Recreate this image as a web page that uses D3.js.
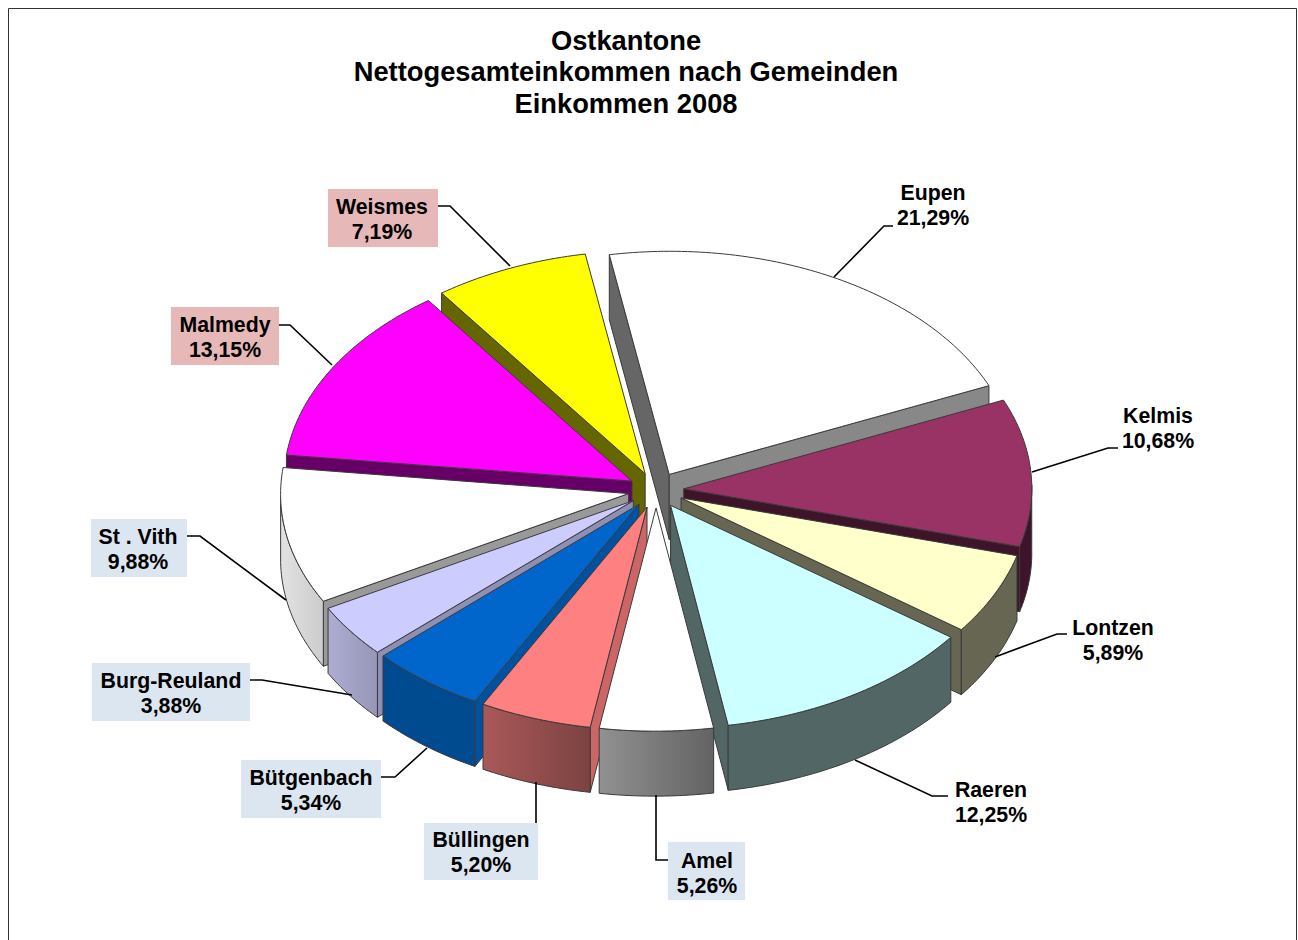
<!DOCTYPE html>
<html><head><meta charset="utf-8">
<script src="https://cdn.jsdelivr.net/npm/d3@7/dist/d3.min.js"></script>
<style>html,body{margin:0;padding:0;background:#fff;overflow:hidden}svg{display:block}text{font-family:"Liberation Sans",Arial,sans-serif;font-weight:bold;fill:#000}</style>
</head><body><svg id="c" width="1298" height="940"></svg>
<script>
const titleLines = ["Ostkantone","Nettogesamteinkommen nach Gemeinden","Einkommen 2008"];
const categories = ["Eupen","Kelmis","Lontzen","Raeren","Amel","Büllingen","Bütgenbach","Burg-Reuland","St . Vith","Malmedy","Weismes"];
const shares = [21.29,10.68,5.89,12.25,5.26,5.20,5.34,3.88,9.88,13.15,7.19];

const topColors  = ["#ffffff","#993366","#ffffcc","#ccffff","#ffffff","#ff8080","#0066cc","#ccccff","#ffffff","#ff00ff","#ffff00"];
const startWalls = ["#666666","#3d1429","#666652","#526666","#666666","#cc6666","#00529f","#8f8fb3","#999999","#660066","#666600"];
const endWalls   = ["#888888","#3d1429","#666652","#526666","#666666","#cc6666","#00529f","#8f8fb3","#999999","#660066","#666600"];
const wallFrom   = ["#999999","#3d1429","#666652","#526666","#919191","#aa5858","#004a90","#adadd2","#e2e2e2","#660066","#666600"];
const wallTo     = ["#666666","#3d1429","#666652","#526666","#636363","#7c4242","#004a90","#9696b8","#cccccc","#660066","#666600"];
const drawOrder  = ["Weismes","Eupen","Malmedy","Kelmis","St . Vith","Lontzen","Burg-Reuland","Raeren","Bütgenbach","Büllingen","Amel"];

// Label layout: text centre, first baseline, optional box, leader path
const labelLayout = {
  "Eupen":        {cx:933, y:200, leader:[[834,277],[884,226],[893,226]]},
  "Kelmis":       {cx:1158,y:423, leader:[[1032,472],[1108,448],[1118,448]]},
  "Lontzen":      {cx:1113,y:635, leader:[[995,657],[1057,634],[1067,634]]},
  "Raeren":       {cx:991, y:797, leader:[[855,760],[932,796],[948,796]]},
  "Amel":         {cx:707, y:868, box:[668,842,77,58],  leader:[[656,795],[656,860],[668,860]]},
  "Büllingen":    {cx:481, y:847, box:[424,823,114,57], leader:[[536,782],[536,823]]},
  "Bütgenbach":   {cx:311, y:785, box:[241,760,140,58], leader:[[427,748],[395,777],[381,777]]},
  "Burg-Reuland": {cx:171, y:688, box:[92,663,158,58],  leader:[[352,695],[262,680],[250,680]]},
  "St . Vith":    {cx:138, y:544, box:[91,519,96,58],   leader:[[286,600],[200,536],[187,536]]},
  "Malmedy":      {cx:225, y:332, box:[171,307,108,58], leader:[[332,365],[290,325],[279,325]], fill:"#e6b8b7"},
  "Weismes":      {cx:382, y:214, box:[328,189,110,58], leader:[[510,266],[450,206],[438,206]], fill:"#e6b8b7"}
};

const svg = d3.select("#c");
const defs = svg.append("defs");
const CX=653, CY=492, RX=348, RY=222, DEPTH=65, EXPLODE=0.08;
const rad = d=>d*Math.PI/180;
const fmt = d3.formatLocale({decimal:",",thousands:".",grouping:[3],currency:["","€"]}).format(".2f");
// slight skew and foreshortening of the viewing plane
const skew = ([x,y])=>[x+0.025*(y-373), y-0.012*(x-400)+0.005*(y-253)];

// frame
svg.append("path").attr("d","M8.5 940V8.5H1296.5V940").attr("fill","none").attr("stroke","#333").attr("stroke-width",1);

// title
svg.append("g").selectAll("text").data(titleLines).join("text")
  .attr("x",626).attr("y",(d,i)=>50+i*31.4).attr("text-anchor","middle").attr("font-size",27.3).text(d=>d);

const arcs = d3.pie().sort(null).value(d=>d.v).startAngle(rad(-9)).endAngle(rad(351))(
  categories.map((n,i)=>({n,v:shares[i],i})));

const line = d3.line();
const down = (p,dz)=>[p[0],p[1]+dz];
const pt = (a,o,dz=0)=>down(skew([o[0]+RX*Math.sin(a), o[1]-RY*Math.cos(a)]),dz);
const sample = (a0,a1,o,dz=0)=>{const n=Math.max(2,Math.ceil(Math.abs(a1-a0)/rad(1)));return d3.range(n+1).map(k=>pt(a0+(a1-a0)*k/n,o,dz));};

const ordered = drawOrder.map(n=>arcs.find(s=>s.data.n===n));
const pieG = svg.append("g").attr("stroke","#3a3a3a").attr("stroke-width",1).attr("stroke-linejoin","round");

ordered.forEach(s=>{
  const i=s.data.i, mid=(s.startAngle+s.endAngle)/2;
  const o=[CX+EXPLODE*RX*Math.sin(mid), CY-EXPLODE*RY*Math.cos(mid)];
  const apex=skew(o);
  const a0=s.startAngle, a1=s.endAngle;
  const g=pieG.append("g").attr("class","slice");
  const wall=(a,col)=>{const p=pt(a,o);
    g.append("path").attr("fill",col).attr("d",line([apex,p,down(p,DEPTH),down(apex,DEPTH)])+"Z");};
  // a cut face is only drawn when it turns towards the viewer
  if(Math.sin(a0)<0) wall(a0,startWalls[i]);
  if(Math.sin(a1)>0) wall(a1,endWalls[i]);
  // outer wall: only the front half of the rim faces the viewer
  const spans=[[Math.max(a0,rad(90)),Math.min(a1,rad(270))],[Math.max(a0+2*Math.PI,rad(90)),Math.min(a1+2*Math.PI,rad(270))]];
  spans.forEach(([l,h])=>{ if(h<=l) return;
    const x0=pt(l,o)[0], x1=pt(h,o)[0], id="g"+i;
    const gr=defs.append("linearGradient").attr("id",id).attr("gradientUnits","userSpaceOnUse")
      .attr("x1",Math.min(x0,x1)).attr("x2",Math.max(x0,x1)).attr("y1",0).attr("y2",0);
    gr.append("stop").attr("offset",0).attr("stop-color",wallFrom[i]);
    gr.append("stop").attr("offset",1).attr("stop-color",wallTo[i]);
    g.append("path").attr("fill",`url(#${id})`)
      .attr("d",line(sample(l,h,o).concat(sample(h,l,o,DEPTH)))+"Z");
  });
  g.append("path").attr("fill",topColors[i])
    .attr("d",line([apex].concat(sample(a0,a1,o)))+"Z");
});

// labels
const lg=svg.append("g");
categories.forEach((n,i)=>{
  const L=labelLayout[n];
  lg.append("path").attr("d",line(L.leader)).attr("fill","none").attr("stroke","#000").attr("stroke-width",1.6);
  if(L.box) lg.append("rect").attr("x",L.box[0]).attr("y",L.box[1]).attr("width",L.box[2]).attr("height",L.box[3]).attr("fill",L.fill||"#dce6f1");
  [n,fmt(shares[i])+"%"].forEach((t,k)=>lg.append("text").attr("x",L.cx).attr("y",L.y+k*24.6).attr("text-anchor","middle").attr("font-size",21.3).text(t));
});
</script></body></html>
